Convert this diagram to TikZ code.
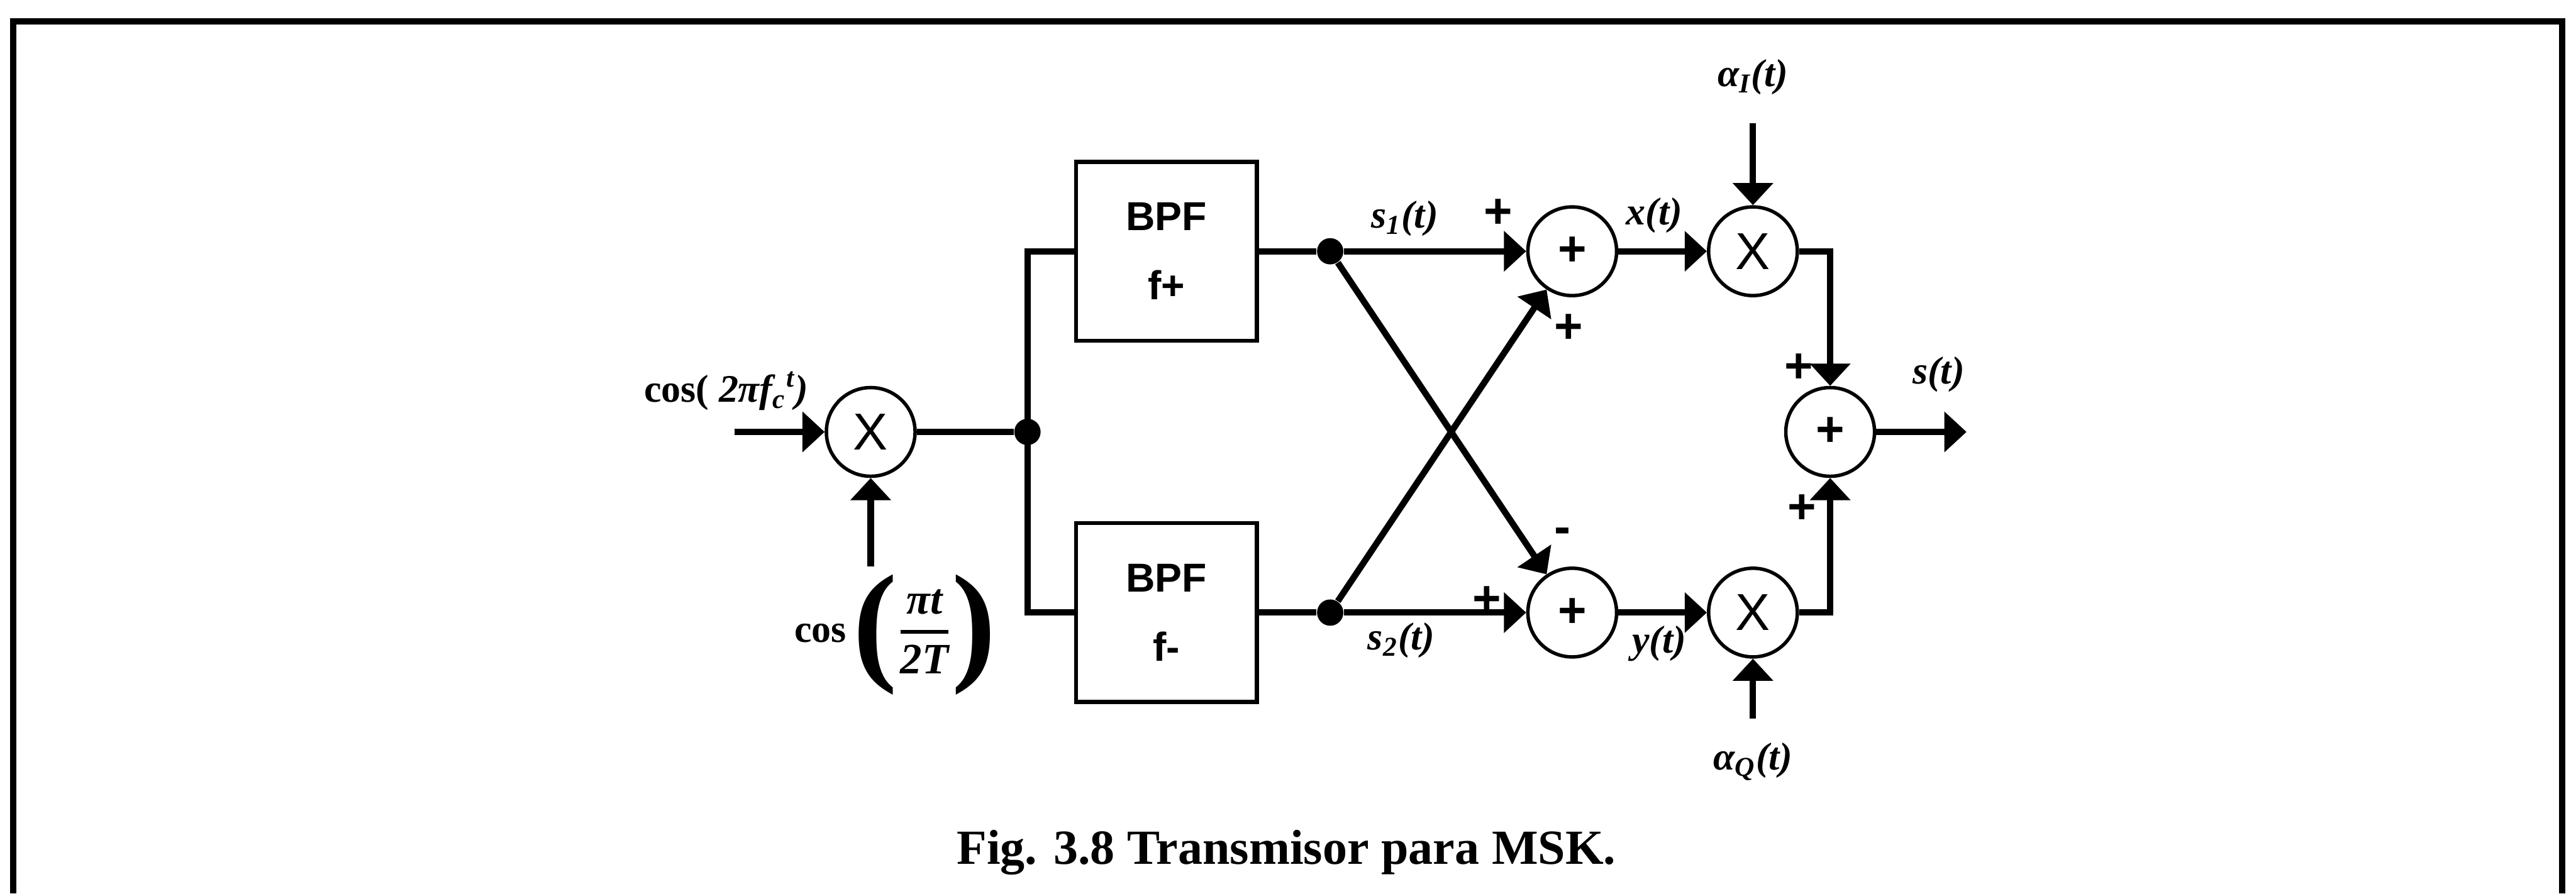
\documentclass[tikz,border=0pt]{standalone}
\usepackage{amsmath}
\usepackage{fontspec}
\setmainfont{Liberation Serif}
\setsansfont{Liberation Sans}
\usepackage{tikz}
\usetikzlibrary{arrows.meta,positioning}
\tikzset{
  blk/.style={draw, line width=1.5pt, minimum width=2.2cm, minimum height=2.18cm, align=center, font=\sffamily\bfseries\fontsize{14}{24}\selectfont},
  mlt/.style={draw, circle, line width=1.2pt, minimum size=1.08cm, inner sep=0pt, font=\sffamily\fontsize{18}{18}\selectfont},
  sumn/.style={mlt, font=\sffamily\bfseries\fontsize{17}{17}\selectfont},
  dot/.style={circle, fill, inner sep=0pt, minimum size=0.32cm},
  wire/.style={line width=2.2pt},
  arr/.style={wire, -{Triangle[length=2.7mm, width=4.8mm]}},
  lbl/.style={font=\bfseries\itshape\fontsize{13.5}{15}\selectfont, inner sep=1pt},
  sgn/.style={font=\sffamily\bfseries\fontsize{17}{17}\selectfont, inner sep=0pt},
  frm/.style={line width=2.2pt}
}

\begin{document}
\begin{tikzpicture}
  \useasboundingbox (0,0) rectangle (31.36,10.88);
  \draw[frm] (0.16,0) -- (0.16,10.62) -- (31.19,10.62) -- (31.19,0);
  % modulator and filters
  \node[mlt] (x1) at (10.6,5.62) {X};
  \node[dot, right=1.18cm of x1] (j) {};
  \coordinate (in) at (8.94,5.62);
  \coordinate (cin) at (10.6,3.98);
  \node[blk] (bpfp) at (14.2,7.82) {BPF\\f+};
  \node[blk] (bpfm) at (14.2,3.42) {BPF\\f-};
  \node[dot, right=0.7cm of bpfp] (d1) {};
  \node[dot, right=0.7cm of bpfm] (d2) {};
  % sums and products
  \node[sumn] (sa) at (19.14,7.82) {+};
  \node[sumn] (sb) at (19.14,3.42) {+};
  \node[mlt] (xa) at (21.34,7.82) {X};
  \node[mlt] (xb) at (21.34,3.42) {X};
  \node[sumn] (so) at (22.28,5.62) {+};
  \coordinate (out) at (23.94,5.62);
  % labels
  \node[lbl] (cfc) at (8.84,6.12) {\upshape cos( \itshape 2πf\textsubscript{c}\textsuperscript{t})};
  \node[lbl] (cpt) at (10.9,3.15) {\upshape cos\,\raisebox{-8.5pt}{\fontsize{46}{46}\selectfont(}$\genfrac{}{}{1.3pt}{0}{\text{\bfseries\itshape\fontsize{15}{15}\selectfont πt}}{\text{\bfseries\itshape\fontsize{15}{15}\selectfont 2T}}$\raisebox{-8.5pt}{\fontsize{46}{46}\selectfont)}};
  \node[lbl] (ls1) at (17.1,8.22) {s\textsubscript{1}(t)};
  \node[lbl] (ls2) at (17.06,3.08) {s\textsubscript{2}(t)};
  \node[lbl] (lx) at (20.14,8.26) {x(t)};
  \node[lbl] (ly) at (20.2,3.04) {y(t)};
  \node[lbl, above=1.3cm of xa] (ai) {α\textsubscript{I}(t)};
  \node[lbl, below=0.98cm of xb] (aq) {α\textsubscript{Q}(t)};
  \node[lbl] (ls) at (23.6,6.32) {s(t)};
  \node[sgn] (pa1) at (18.24,8.28) {+};
  \node[sgn] (pa2) at (19.1,6.88) {+};
  \node[sgn] (mb1) at (19.02,4.36) {-};
  \node[sgn] (pb2) at (18.1,3.56) {+};
  \node[sgn] (po1) at (21.9,6.4) {+};
  \node[sgn] (po2) at (21.94,4.68) {+};
  % connectors
  \draw[arr] (in) -- (x1);
  \draw[arr] (cin) -- (x1);
  \draw[wire] (x1) -- (j);
  \draw[wire] (bpfp.west) -| (j.center) |- (bpfm.west);
  \draw[wire] (bpfp) -- (d1);
  \draw[wire] (bpfm) -- (d2);
  \draw[arr] (d1) -- (sa);
  \draw[arr] (d2) -- (sb);
  \draw[arr] (d1) -- (sb);
  \draw[arr] (d2) -- (sa);
  \draw[arr] (sa) -- (xa);
  \draw[arr] (sb) -- (xb);
  \draw[arr, shorten <=3mm] (ai) -- (xa);
  \draw[arr, shorten <=2.5mm] (aq) -- (xb);
  \draw[arr] (xa) -| (so);
  \draw[arr] (xb) -| (so);
  \draw[arr] (so) -- (out);
  \node[font=\bfseries\fontsize{17}{17}\selectfont] (cap) at (15.66,0.5) {Fig. 3.8 Transmisor para MSK.};
\end{tikzpicture}
\end{document}
